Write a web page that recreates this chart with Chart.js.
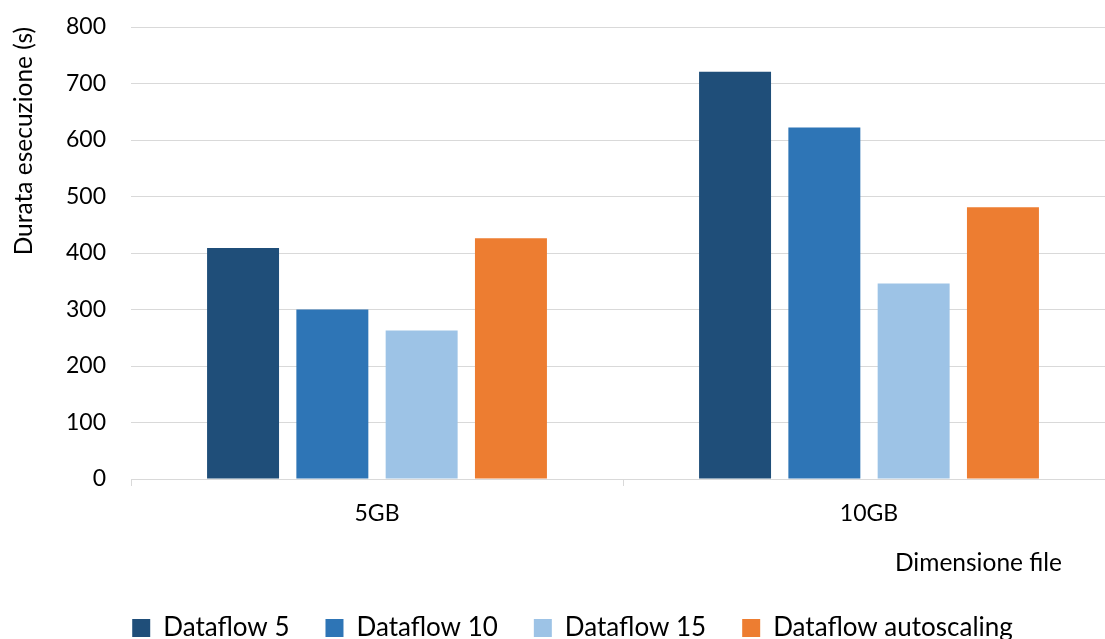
<!DOCTYPE html>
<html>
<head>
<meta charset="utf-8">
<script src="https://cdn.jsdelivr.net/npm/chart.js@4"></script>
<style>
html, body { margin: 0; padding: 0; overflow: hidden; background: #ffffff; width: 1105px; height: 639px; }
#wrap { position: absolute; left: 0; top: 0; width: 1120px; height: 639px; }
</style>
</head>
<body>
<div id="wrap"><canvas id="chart" width="1120" height="639"></canvas></div>
<script>
const categories = ['5GB', '10GB'];
const seriesLabels = ['Dataflow 5', 'Dataflow 10', 'Dataflow 15', 'Dataflow autoscaling'];
const dataflow5 = [409, 721];
const dataflow10 = [300, 622];
const dataflow15 = [263, 346];
const dataflowAutoscaling = [426, 481];
const yTickValues = [0, 100, 200, 300, 400, 500, 600, 700, 800];
const seriesColors = ['#1F4E79', '#2E75B6', '#9DC3E6', '#ED7D31'];
const yAxisTitle = 'Durata esecuzione (s)';
const xAxisTitle = 'Dimensione file';

const FONT = 'Lato, "Open Sans", sans-serif';
const axisFont = { family: FONT, size: 23 };
const titleFont = { family: FONT, size: 24.5 };
const legendFont = { family: FONT, size: 26 };
const seriesValues = [dataflow5, dataflow10, dataflow15, dataflowAutoscaling];

const xTitlePlugin = {
  id: 'xTitle',
  afterDraw(chart) {
    const ctx = chart.ctx;
    const area = chart.chartArea;
    ctx.save();
    ctx.font = '24.5px ' + FONT;
    ctx.fillStyle = '#000000';
    ctx.textAlign = 'right';
    ctx.textBaseline = 'middle';
    ctx.fillText(xAxisTitle, area.right - 53, 563);
    ctx.restore();
  }
};

const legendShift = {
  id: 'legendShift',
  afterLayout(chart) {
    if (chart.legend) {
      chart.legend.left += 15;
      chart.legend.right += 15;
    }
  }
};

new Chart(document.getElementById('chart'), {
  type: 'bar',
  data: {
    labels: categories,
    datasets: seriesLabels.map((name, i) => ({
      label: name,
      data: seriesValues[i],
      backgroundColor: seriesColors[i],
      borderWidth: 0,
      categoryPercentage: 0.726,
      barPercentage: 0.806
    }))
  },
  options: {
    responsive: false,
    animation: false,
    devicePixelRatio: 1,
    layout: { padding: { top: 27, left: 0, right: 5, bottom: -12 } },
    plugins: {
      legend: {
        position: 'bottom',
        labels: { boxWidth: 18, boxHeight: 18, padding: 36, color: '#000000', font: legendFont }
      },
      tooltip: { enabled: false }
    },
    scales: {
      x: {
        grid: { display: true, drawOnChartArea: false, drawTicks: true, tickLength: 7, color: '#d9d9d9' },
        border: { display: true, color: '#d9d9d9' },
        ticks: { color: '#000000', font: axisFont, padding: 14 },
        afterFit(scale) { scale.height = 100; }
      },
      y: {
        min: 0,
        max: 800,
        afterBuildTicks(scale) { scale.ticks = yTickValues.map(v => ({ value: v })); },
        ticks: { color: '#000000', font: axisFont, padding: 3 },
        grid: { color: '#d9d9d9', drawTicks: true, tickLength: 22, tickColor: 'rgba(0,0,0,0)' },
        border: { display: false },
        title: { display: true, text: yAxisTitle, align: 'end', color: '#000000', font: titleFont, padding: { top: 9, bottom: 0 } },
        afterFit(scale) { scale.width = 131; }
      }
    }
  },
  plugins: [xTitlePlugin, legendShift]
});
</script>
</body>
</html>
